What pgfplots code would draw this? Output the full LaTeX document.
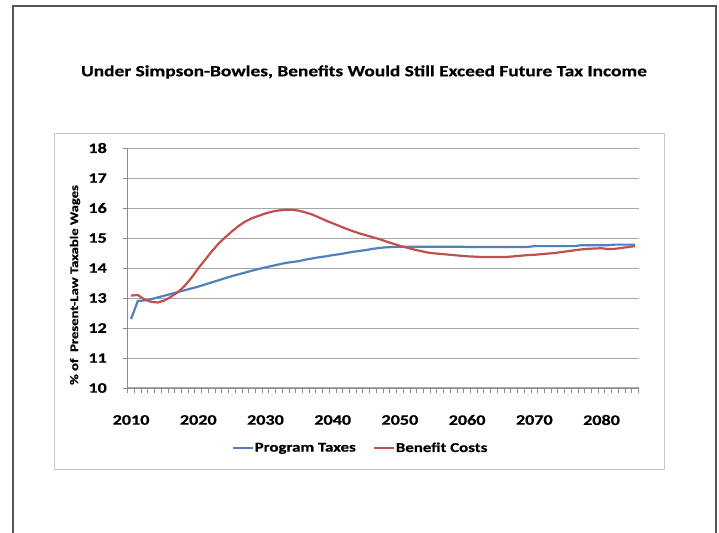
\documentclass[border=0pt]{standalone}
\usepackage{fontspec}
\setmainfont{Carlito}[FakeStretch=1.25, BoldFeatures={FakeBold=0.6}]
\usepackage{pgfplots}
\usepackage{pgfplotstable}
\pgfplotsset{compat=1.18}

\definecolor{framegray}{HTML}{555555}
\definecolor{boxgray}{HTML}{C8C8C8}
\definecolor{gridgray}{HTML}{A8A8A8}
\definecolor{axisgray}{HTML}{8C8C8C}
\definecolor{taxblue}{HTML}{4F81BD}
\definecolor{costred}{HTML}{C0504D}

% Social Security projections, % of present-law taxable wages
\pgfplotstableread{
year taxes costs
2010 12.30 13.08
2011 12.90 13.10
2012 12.92 12.95
2013 12.96 12.87
2014 13.02 12.85
2015 13.08 12.92
2016 13.14 13.05
2017 13.20 13.20
2018 13.26 13.41
2019 13.32 13.68
2020 13.38 13.99
2021 13.45 14.27
2022 13.52 14.55
2023 13.59 14.81
2024 13.66 15.02
2025 13.73 15.22
2026 13.79 15.40
2027 13.85 15.55
2028 13.91 15.66
2029 13.97 15.74
2030 14.02 15.82
2031 14.07 15.88
2032 14.12 15.92
2033 14.17 15.94
2034 14.20 15.94
2035 14.23 15.91
2036 14.28 15.85
2037 14.32 15.78
2038 14.36 15.68
2039 14.39 15.58
2040 14.43 15.49
2041 14.46 15.40
2042 14.50 15.31
2043 14.54 15.23
2044 14.57 15.15
2045 14.60 15.09
2046 14.64 15.02
2047 14.67 14.96
2048 14.69 14.88
2049 14.70 14.81
2050 14.71 14.74
2051 14.71 14.68
2052 14.71 14.62
2053 14.71 14.57
2054 14.71 14.52
2055 14.71 14.49
2056 14.71 14.47
2057 14.71 14.45
2058 14.71 14.43
2059 14.71 14.41
2060 14.70 14.39
2061 14.70 14.38
2062 14.70 14.37
2063 14.70 14.37
2064 14.70 14.37
2065 14.70 14.37
2066 14.70 14.37
2067 14.70 14.39
2068 14.70 14.41
2069 14.70 14.43
2070 14.73 14.44
2071 14.73 14.46
2072 14.73 14.48
2073 14.73 14.50
2074 14.73 14.53
2075 14.73 14.56
2076 14.73 14.59
2077 14.76 14.62
2078 14.76 14.64
2079 14.76 14.65
2080 14.76 14.66
2081 14.76 14.63
2082 14.78 14.64
2083 14.78 14.67
2084 14.78 14.70
2085 14.78 14.73
}\ssdata

\begin{document}
\begin{tikzpicture}[x=1pt,y=1pt]
\useasboundingbox (0,0) rectangle (719,532);
\begin{scope}
  \clip (0,0) rectangle (719,532);
  \draw[line width=2.2pt, framegray] (12.7,-10) -- (12.7,526) -- (716,526) -- (716,-10);
\end{scope}
\draw[line width=0.9pt, boxgray] (54,63) rectangle (664,399);
\node[font=\fontsize{15.5pt}{18pt}\selectfont\bfseries] at (364,460)
  {Under Simpson-Bowles, Benefits Would Still Exceed Future Tax Income};

\begin{axis}[
  at={(127.7pt,144pt)}, anchor=south west,
  scale only axis, width=510.8pt, height=240pt,
  xmin=2009.5, xmax=2085.5, ymin=10, ymax=18,
  axis lines*=left,
  axis line style={axisgray, line width=0.9pt},
  xtick={2010,2020,...,2080},
  minor xtick={2009.5,2010.5,...,2085.5},
  ytick={10,11,...,18},
  tick align=outside,
  major tick length=5pt, minor tick length=5pt,
  major x tick style={draw=none},
  minor x tick style={axisgray, line width=0.9pt},
  y tick style={axisgray, line width=0.9pt},
  ymajorgrids,
  major grid style={gridgray, line width=1pt},
  /pgf/number format/assume math mode=true,
  xticklabel={\pgfmathprintnumber[1000 sep={}]{\tick}},
  ticklabel style={font=\fontsize{14.5pt}{17pt}\selectfont\bfseries},
  xticklabel style={anchor=center, yshift=-27pt},
  yticklabel style={anchor=east, inner sep=0pt, xshift=-15.7pt},
  legend style={at={(0.4548,-0.25)}, anchor=center, draw=none, fill=none,
    legend columns=2, font=\fontsize{13.5pt}{16pt}\selectfont\bfseries,
    /tikz/every even column/.append style={column sep=16pt},
    nodes={inner sep=1pt}},
  legend image code/.code={\draw[#1, line width=2pt] (0pt,0pt) -- (20pt,0pt);},
]
\addplot[taxblue, line width=2.2pt, line join=round] table[x=year, y=taxes] {\ssdata};
\addlegendentry{Program Taxes}
\addplot[costred, line width=2.2pt, line join=round] table[x=year, y=costs] {\ssdata};
\addlegendentry{Benefit Costs}
\end{axis}

\node[rotate=90, font=\fontsize{11.7pt}{14pt}\selectfont\bfseries] at (75,247)
  {\% of\ \ Present-Law Taxable Wages};
\end{tikzpicture}
\end{document}
